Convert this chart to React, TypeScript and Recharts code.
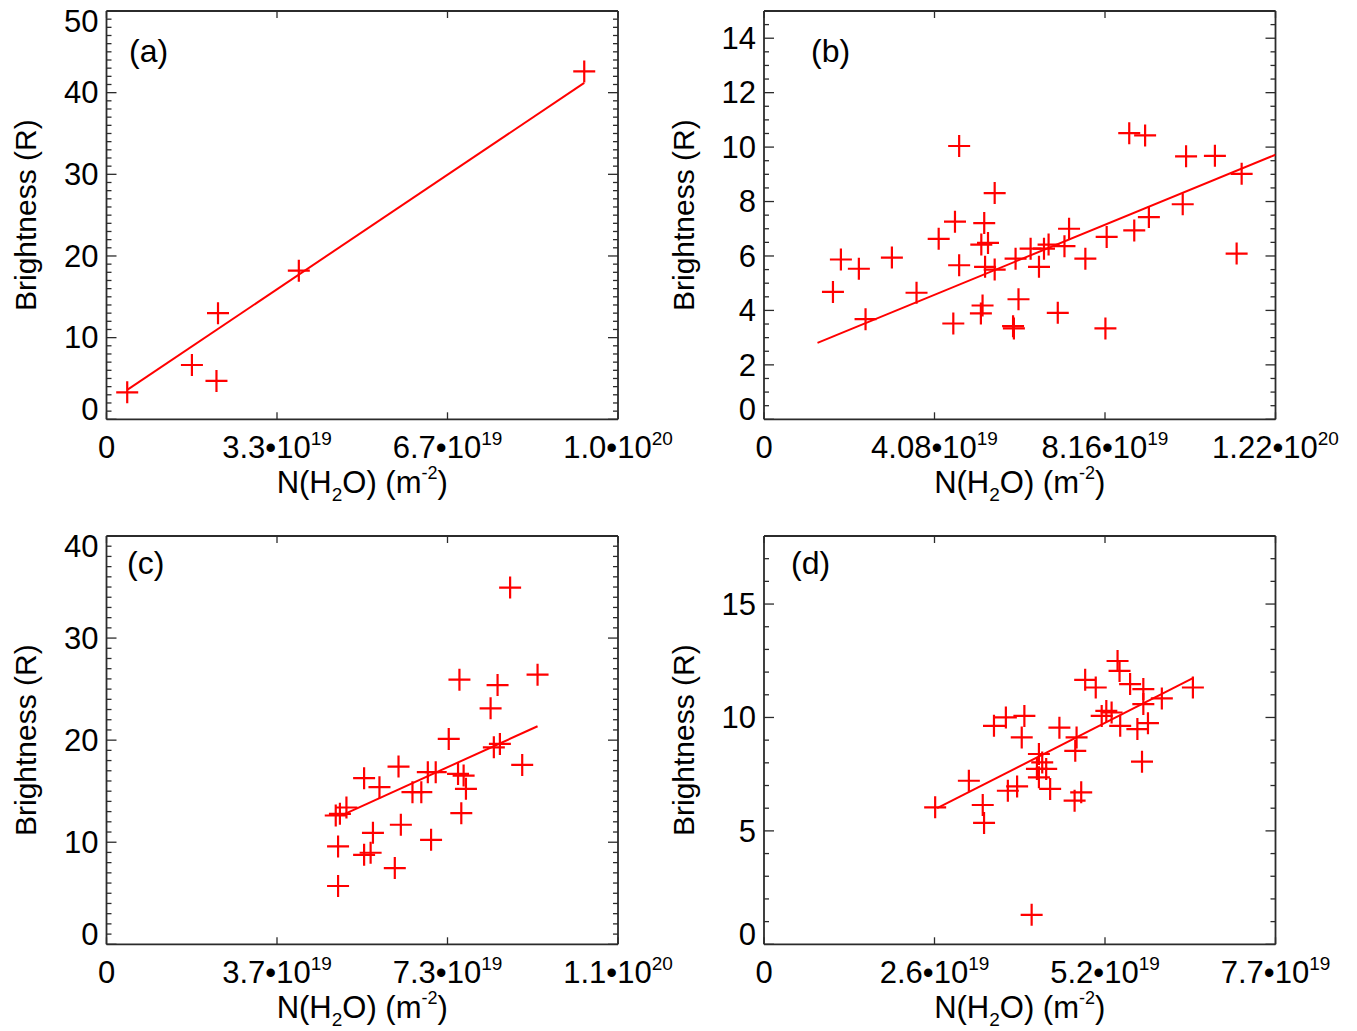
import React from 'react';
import { ComposedChart, Scatter, XAxis, YAxis } from 'recharts';

const FONT = '"Liberation Sans", Arial, Helvetica, sans-serif';
const RED = '#ff0000';
const INK = '#2b2b2b';

// ---------- Panel (a) ----------  (x in units of 1e19 m^-2)
const aX = [0.405, 1.67, 2.15, 2.18, 3.76, 9.34];
const aY = [3.3, 6.65, 4.7, 13.0, 18.2, 42.6];
const aFitX = [0.405, 9.34];
const aFitY = [3.6, 41.2];
const aXMant = ['0', '3.3', '6.7', '1.0'];
const aXExp = ['', '19', '19', '20'];
const aYMajor = [0, 10, 20, 30, 40, 50];

// ---------- Panel (b) ----------
const bX = [1.65, 1.84, 2.27, 2.43, 3.06, 3.65, 4.18, 4.57, 4.67, 4.67, 4.53, 5.27, 5.2, 5.36, 5.23, 5.19, 5.29, 5.52, 5.52, 5.96, 5.98, 6.02, 6.09, 6.38, 6.58, 6.7, 6.81, 7.03, 7.19, 7.3, 7.69, 8.2, 8.17, 8.86, 9.21, 8.74, 9.12, 10.02, 10.1, 10.79, 11.43, 11.31];
const bY = [4.68, 5.87, 5.53, 3.68, 5.94, 4.65, 6.63, 7.26, 10.04, 5.66, 3.52, 7.21, 6.42, 6.48, 4.18, 3.89, 5.6, 5.5, 8.31, 3.42, 3.34, 5.9, 4.41, 6.27, 5.6, 6.27, 6.42, 3.91, 6.36, 7.0, 5.9, 6.7, 3.34, 6.94, 7.43, 10.51, 10.43, 7.9, 9.66, 9.68, 9.02, 6.09];
const bFitX = [1.28, 12.24];
const bFitY = [2.81, 9.72];
const bXMant = ['0', '4.08', '8.16', '1.22'];
const bXExp = ['', '19', '19', '20'];
const bYMajor = [0, 2, 4, 6, 8, 10, 12, 14];

// ---------- Panel (c) ----------
const cX = [4.98, 4.98, 4.93, 5.02, 5.16, 5.54, 5.87, 5.73, 5.54, 5.68, 6.2, 6.33, 6.28, 6.58, 6.77, 6.91, 7.08, 6.98, 7.36, 7.59, 7.56, 7.68, 7.73, 7.63, 8.26, 8.41, 8.33, 8.46, 8.68, 8.94, 9.27];
const cY = [5.71, 9.59, 12.62, 12.78, 13.4, 16.27, 15.39, 10.92, 8.77, 8.97, 7.47, 11.71, 17.41, 14.9, 14.9, 16.86, 16.86, 10.24, 20.12, 25.92, 16.69, 16.53, 15.23, 12.85, 23.12, 25.4, 19.3, 19.63, 34.95, 17.57, 26.41];
const cFitX = [5.08, 9.27];
const cFitY = [12.68, 21.36];
const cXMant = ['0', '3.7', '7.3', '1.1'];
const cXExp = ['', '19', '19', '20'];
const cYMajor = [0, 10, 20, 30, 40];

// ---------- Panel (d) ----------
const dX = [2.59, 3.1, 3.31, 3.33, 3.48, 3.66, 3.94, 3.9, 3.69, 3.83, 4.05, 4.16, 4.21, 4.13, 4.27, 4.16, 4.33, 4.47, 4.73, 4.71, 4.7, 4.8, 4.86, 5.02, 5.11, 5.18, 5.26, 5.35, 5.38, 5.39, 5.54, 5.74, 5.74, 5.65, 5.81, 5.72, 6.02, 6.49];
const dY = [6.04, 7.21, 6.14, 5.35, 9.63, 10.0, 10.07, 9.12, 6.77, 6.96, 1.3, 8.39, 8.02, 7.73, 7.73, 7.36, 6.85, 9.55, 9.12, 8.53, 6.33, 6.7, 11.66, 11.32, 10.07, 10.29, 10.22, 12.49, 12.05, 9.63, 11.47, 11.25, 10.59, 9.49, 9.75, 8.05, 10.84, 11.32];
const dFitX = [2.62, 6.49];
const dFitY = [6.0, 11.73];
const dXMant = ['0', '2.6', '5.2', '7.7'];
const dXExp = ['', '19', '19', '19'];
const dYMajor = [0, 5, 10, 15];

const zip = (xs: number[], ys: number[]) => xs.map((x, i) => ({ x, y: ys[i] }));
const steps = (max: number, step: number) =>
  Array.from({ length: Math.round(max / step) + 1 }, (_, i) => +(i * step).toFixed(4));
const thirds = (max: number) => [0, max / 3, (2 * max) / 3, max];

const Plus = (p: any) => {
  const { cx, cy } = p;
  if (cx == null || cy == null) return <g />;
  return (
    <path
      d={`M${cx - 11},${cy}H${cx + 11}M${cx},${cy - 11}V${cy + 11}`}
      stroke={RED}
      strokeWidth={2.2}
      fill="none"
    />
  );
};

const Empty = () => <g />;

type Box = { top: number; right: number; bottom: number; left: number };
type Cfg = {
  left: number;
  top: number;
  w: number;
  h: number;
  box: Box; // plot box edges, local coordinates
  xMax: number;
  yMax: number;
  xMant: string[];
  xExp: string[];
  yMajor: number[];
  yStep: number;
  pts: { x: number; y: number }[];
  fit: { x: number; y: number }[];
  tag: string;
  tagX: number;
  tagY: number;
};

function Panel({ cfg }: { cfg: Cfg }) {
  const { left, top, w, h, box, xMax, yMax, xMant, xExp, yMajor, yStep, pts, fit, tag, tagX, tagY } = cfg;
  const xTicks = thirds(xMax);
  const yTicks = steps(yMax, yStep);
  const isMajor = (v: number) => yMajor.some((t) => Math.abs(t - v) < 1e-6);
  const idxOf = (v: number) => xTicks.findIndex((t) => Math.abs(t - v) < 1e-6);
  const bx = box.left;
  const bxr = box.right;
  const by = box.top;
  const byb = box.bottom;
  // axes take 1px each, so margins are the box minus 1px
  const margin = { left: bx - 1, top: by - 1, right: w - bxr - 1, bottom: h - byb - 1 };
  const axisLine = { stroke: INK, strokeWidth: 1.8 };

  const XTickB = (p: any) => {
    const i = idxOf(p.payload.value);
    const mant = xMant[i];
    const ex = xExp[i];
    return (
      <g>
        <line x1={p.x} x2={p.x} y1={byb} y2={byb - 7} stroke={INK} strokeWidth={1.3} />
        <text x={p.x} y={byb + 38.5} textAnchor="middle" fontFamily={FONT} fontSize={31} fill="#000">
          {ex ? (
            <>
              {mant}•10<tspan dy={-13} fontSize={19}>{ex}</tspan>
            </>
          ) : (
            mant
          )}
        </text>
      </g>
    );
  };
  const XTickT = (p: any) => (
    <line x1={p.x} x2={p.x} y1={by} y2={by + 7} stroke={INK} strokeWidth={1.3} />
  );
  const YTickL = (p: any) => {
    const v = p.payload.value;
    const maj = isMajor(v);
    let shift = 0;
    if (maj && Math.abs(v) < 1e-6) shift = -10;
    if (maj && Math.abs(v - yMax) < 1e-6) shift = 10;
    return (
      <g>
        <line x1={bx} x2={bx + (maj ? 10 : 5)} y1={p.y} y2={p.y} stroke={INK} strokeWidth={1.3} />
        {maj && (
          <text x={bx - 8} y={p.y + 10.8 + shift} textAnchor="end" fontFamily={FONT} fontSize={31} fill="#000">
            {v}
          </text>
        )}
      </g>
    );
  };
  const YTickR = (p: any) => {
    const maj = isMajor(p.payload.value);
    return <line x1={bxr} x2={bxr - (maj ? 10 : 5)} y1={p.y} y2={p.y} stroke={INK} strokeWidth={1.3} />;
  };

  const common = { type: 'number' as const, allowDataOverflow: true, interval: 0 as const, tickSize: 0, tickMargin: 0, tickLine: false, axisLine };

  return (
    <div style={{ position: 'absolute', left, top, width: w, height: h }}>
      <ComposedChart width={w} height={h} margin={margin}>
        <XAxis xAxisId="b" dataKey="x" domain={[0, xMax]} ticks={xTicks} height={1} tick={(p: any) => <XTickB {...p} />} {...common} />
        <XAxis xAxisId="t" dataKey="x" orientation="top" domain={[0, xMax]} ticks={xTicks} height={1} tick={(p: any) => <XTickT {...p} />} {...common} />
        <YAxis yAxisId="l" dataKey="y" domain={[0, yMax]} ticks={yTicks} width={1} tick={(p: any) => <YTickL {...p} />} {...common} />
        <YAxis yAxisId="r" dataKey="y" orientation="right" domain={[0, yMax]} ticks={yTicks} width={1} tick={(p: any) => <YTickR {...p} />} {...common} />
        <Scatter xAxisId="t" yAxisId="r" data={fit} shape={Empty} isAnimationActive={false} />
        <Scatter xAxisId="b" yAxisId="l" data={fit} line={{ stroke: RED, strokeWidth: 2 }} shape={Empty} isAnimationActive={false} />
        <Scatter xAxisId="b" yAxisId="l" data={pts} shape={Plus} isAnimationActive={false} />
      </ComposedChart>
      <svg width={w} height={h} style={{ position: 'absolute', left: 0, top: 0, pointerEvents: 'none', overflow: 'visible' }}>
        <text x={tagX} y={tagY} fontFamily={FONT} fontSize={32} fill="#000">
          {tag}
        </text>
        <text x={(bx + bxr) / 2} y={byb + 74} textAnchor="middle" fontFamily={FONT} fontSize={31} fill="#000">
          N(H<tspan dy={8} fontSize={19}>2</tspan>
          <tspan dy={-8}>O) (m</tspan>
          <tspan dy={-14} fontSize={18}>-2</tspan>
          <tspan dy={14}>)</tspan>
        </text>
        <text
          x={bx - 70}
          y={(by + byb) / 2}
          transform={`rotate(-90 ${bx - 70} ${(by + byb) / 2})`}
          textAnchor="middle"
          fontFamily={FONT}
          fontSize={30}
          fill="#000"
        >
          Brightness (R)
        </text>
      </svg>
    </div>
  );
}

const boxL: Box = { top: 11, right: 618, bottom: 419.3, left: 106.5 };
const boxR: Box = { top: 11, right: 595.5, bottom: 419.3, left: 84 };

const panels: Cfg[] = [
  { left: 0, top: 0, w: 680, h: 520, box: boxL, xMax: 10, yMax: 50, xMant: aXMant, xExp: aXExp, yMajor: aYMajor, yStep: 1, pts: zip(aX, aY), fit: zip(aFitX, aFitY), tag: '(a)', tagX: 129, tagY: 62 },
  { left: 680, top: 0, w: 677, h: 520, box: boxR, xMax: 12.24, yMax: 15, xMant: bXMant, xExp: bXExp, yMajor: bYMajor, yStep: 0.5, pts: zip(bX, bY), fit: zip(bFitX, bFitY), tag: '(b)', tagX: 131, tagY: 62 },
  { left: 0, top: 525, w: 680, h: 506, box: boxL, xMax: 11, yMax: 40, xMant: cXMant, xExp: cXExp, yMajor: cYMajor, yStep: 1, pts: zip(cX, cY), fit: zip(cFitX, cFitY), tag: '(c)', tagX: 127, tagY: 49 },
  { left: 680, top: 525, w: 677, h: 506, box: boxR, xMax: 7.74, yMax: 18, xMant: dXMant, xExp: dXExp, yMajor: dYMajor, yStep: 1, pts: zip(dX, dY), fit: zip(dFitX, dFitY), tag: '(d)', tagX: 111, tagY: 49 },
];

export default function App() {
  return (
    <div style={{ position: 'absolute', left: 0, top: 0, width: 1357, height: 1031, background: '#fff', overflow: 'hidden' }}>
      {panels.map((p) => (
        <Panel key={p.tag} cfg={p} />
      ))}
    </div>
  );
}
